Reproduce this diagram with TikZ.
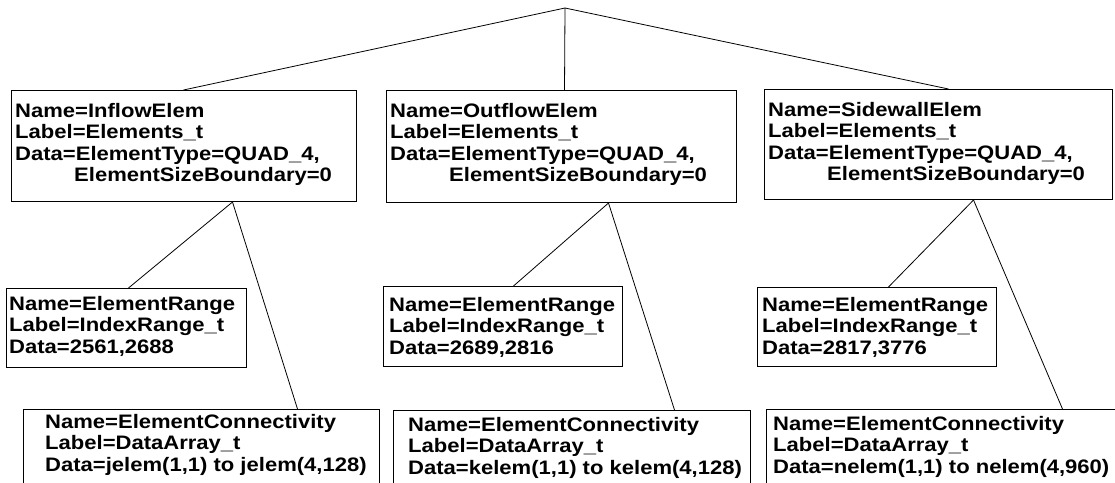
\documentclass[tikz,border=0pt]{standalone}
\usepackage{fontspec}
\setmainfont{Liberation Sans}[FakeStretch=1.13]
\newcommand{\lines}[1]{\begin{tabular}[t]{@{}l@{}}#1\end{tabular}}
\begin{document}
\begin{tikzpicture}[x=1pt,y=-1pt,
  font=\fontsize{19.5}{21.5}\selectfont\bfseries,
  box/.style={draw, line width=1pt, inner sep=0pt, anchor=north west},
  txt/.style={anchor=base west, inner sep=0pt},
  link/.style={line width=0.8pt}]
\useasboundingbox (0,0) rectangle (1115,482);
\clip (0,0) rectangle (1115,482);
% root
\coordinate (root) at (565,8);
% level 1 boxes
\node[box, minimum width=345pt, minimum height=111pt] (b1) at (11,90) {};
\node[box, minimum width=350pt, minimum height=112pt] (b2) at (386,90) {};
\node[box, minimum width=348pt, minimum height=110pt] (b3) at (764,89) {};
\node[txt] (b1t) at (15,117) {\lines{Name=InflowElem\\Label=Elements\_t\\Data=ElementType=QUAD\_4,\\\hspace*{59pt}ElementSizeBoundary=0}};
\node[txt] (b2t) at (390,117) {\lines{Name=OutflowElem\\Label=Elements\_t\\Data=ElementType=QUAD\_4,\\\hspace*{59pt}ElementSizeBoundary=0}};
\node[txt] (b3t) at (768,116) {\lines{Name=SidewallElem\\Label=Elements\_t\\Data=ElementType=QUAD\_4,\\\hspace*{59pt}ElementSizeBoundary=0}};
% range boxes
\node[box, minimum width=240pt, minimum height=79pt] (r1) at (6,288) {};
\node[box, minimum width=239pt, minimum height=80pt] (r2) at (383,286) {};
\node[box, minimum width=239pt, minimum height=79pt] (r3) at (757,287) {};
\node[txt] (r1t) at (9,310) {\lines{Name=ElementRange\\Label=IndexRange\_t\\Data=2561,2688}};
\node[txt] (r2t) at (389,311) {\lines{Name=ElementRange\\Label=IndexRange\_t\\Data=2689,2816}};
\node[txt] (r3t) at (762,311) {\lines{Name=ElementRange\\Label=IndexRange\_t\\Data=2817,3776}};
% connectivity boxes (run past the bottom edge)
\node[box, minimum width=356pt, minimum height=100pt] (c1) at (23,409) {};
\node[box, minimum width=357pt, minimum height=100pt] (c2) at (393,410) {};
\node[box, minimum width=370pt, minimum height=100pt] (c3) at (766,409) {};
\node[txt] (c1t) at (45,428) {\lines{Name=ElementConnectivity\\Label=DataArray\_t\\Data=jelem(1,1) to jelem(4,128)}};
\node[txt] (c2t) at (408,431) {\lines{Name=ElementConnectivity\\Label=DataArray\_t\\Data=kelem(1,1) to kelem(4,128)}};
\node[txt] (c3t) at (773,430) {\lines{Name=ElementConnectivity\\Label=DataArray\_t\\Data=nelem(1,1) to nelem(4,960)}};
% connectors
\draw[link] (root) -- ([xshift=-0.5pt]b1.north);
\draw[link] (root) -- ([xshift=3pt]b2.north);
\draw[link] (root) -- ([xshift=10pt]b3.north);
\coordinate (j1) at ([xshift=48.5pt]b1.south);
\coordinate (j2) at ([xshift=47pt]b2.south);
\coordinate (j3) at ([xshift=35pt]b3.south);
\draw[link] (j1) -- ([xshift=2pt]r1.north);
\draw[link] (j1) -- ([xshift=96pt]c1.north);
\draw[link] (j2) -- ([xshift=10.5pt]r2.north);
\draw[link] (j2) -- ([xshift=102.5pt]c2.north);
\draw[link] (j3) -- ([xshift=11.5pt]r3.north);
\draw[link] (j3) -- ([xshift=111pt]c3.north);
\end{tikzpicture}
\end{document}
